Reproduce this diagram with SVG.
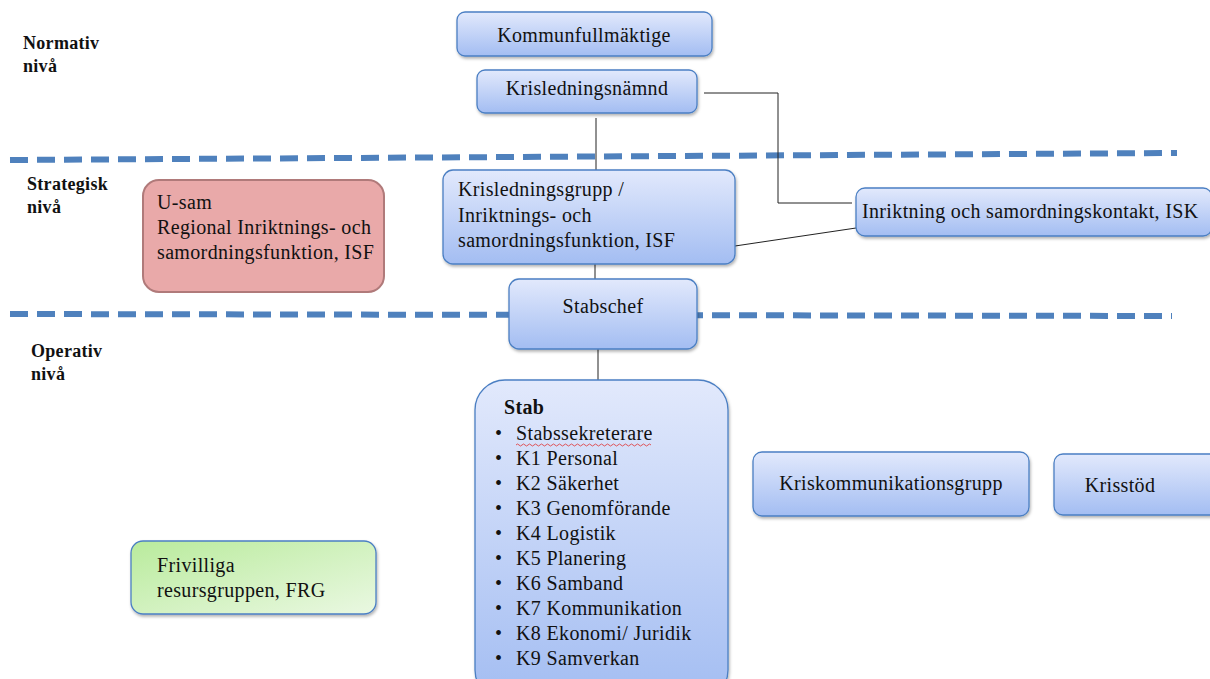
<svg xmlns="http://www.w3.org/2000/svg" width="1210" height="679" viewBox="0 0 1210 679">
<defs>
<linearGradient id="gBlue" x1="0" y1="0" x2="0" y2="1">
<stop offset="0" stop-color="#e2e9fc"/>
<stop offset="1" stop-color="#a3bdf2"/>
</linearGradient>
<linearGradient id="gGreen" x1="0" y1="0" x2="1" y2="1">
<stop offset="0" stop-color="#b9eb9c"/>
<stop offset="1" stop-color="#eaf8e2"/>
</linearGradient>
<filter id="sh" x="-10%" y="-10%" width="120%" height="130%">
<feDropShadow dx="1" dy="2" stdDeviation="1.5" flood-color="#000" flood-opacity="0.3"/>
</filter>
</defs>
<style>
.box{fill:url(#gBlue);stroke:#4b7fc3;stroke-width:1.3;filter:url(#sh)}
.t{font-family:"Liberation Serif","Times New Roman",serif;font-size:20px;letter-spacing:0.35px;fill:#111}
.lvl{font-family:"Liberation Serif","Times New Roman",serif;font-size:18px;letter-spacing:0.3px;font-weight:bold;fill:#111}
.dash{stroke:#4f81bd;stroke-width:6;stroke-dasharray:18 9;fill:none}
.con{stroke:#222;stroke-width:1;fill:none}
</style>
<rect width="1210" height="679" fill="#fff"/>
<g id="levels">
<line class="dash" x1="10" y1="160" x2="1177" y2="153"/>
<line class="dash" x1="10" y1="314" x2="1172" y2="316"/>
<text class="lvl" x="23" y="49">Normativ</text>
<text class="lvl" x="23" y="72">nivå</text>
<text class="lvl" x="27" y="190">Strategisk</text>
<text class="lvl" x="27" y="213">nivå</text>
<text class="lvl" x="31" y="357">Operativ</text>
<text class="lvl" x="31" y="380">nivå</text>
</g>
<g id="connectors">
<polyline class="con" points="704,93 778,93 778,203 852,203"/>
<line class="con" x1="596" y1="118" x2="596" y2="170" stroke="#666"/>
<line class="con" x1="735" y1="246" x2="856" y2="228"/>
<line class="con" x1="595" y1="264" x2="595" y2="279"/>
<line class="con" x1="598" y1="349" x2="598" y2="381"/>
</g>
<g id="kommunfullmaktige">
<rect class="box" x="457" y="12" width="255" height="44" rx="8"/>
<text class="t" x="584" y="42" text-anchor="middle">Kommunfullmäktige</text>
</g>
<g id="krisledningsnamnd">
<rect class="box" x="477" y="70" width="220" height="43" rx="8"/>
<text class="t" x="587" y="95" text-anchor="middle">Krisledningsnämnd</text>
</g>
<g id="krisledningsgrupp">
<rect class="box" x="443" y="170" width="292" height="94" rx="10"/>
<text class="t" x="458" y="196">Krisledningsgrupp /</text>
<text class="t" x="458" y="222">Inriktnings- och</text>
<text class="t" x="458" y="247">samordningsfunktion, ISF</text>
</g>
<g id="isk">
<rect class="box" x="856" y="188" width="356" height="48" rx="9"/>
<text class="t" x="862" y="218">Inriktning och samordningskontakt, ISK</text>
</g>
<g id="usam">
<rect x="143" y="180" width="241" height="112" rx="16" fill="#e9a9a9" stroke="#b07a7a" stroke-width="2"/>
<text class="t" x="157" y="209">U-sam</text>
<text class="t" x="157" y="234">Regional Inriktnings- och</text>
<text class="t" x="157" y="259">samordningsfunktion, ISF</text>
</g>
<g id="stabschef">
<rect class="box" x="509" y="279" width="188" height="70" rx="10"/>
<text class="t" x="603" y="313" text-anchor="middle">Stabschef</text>
</g>
<g id="stab">
<rect class="box" x="475" y="380" width="253" height="320" rx="30"/>
<text class="t" x="504" y="414" font-weight="bold">Stab</text>
<g class="t">
<text x="495" y="440">•</text><text x="516" y="440">Stabssekreterare</text>
<text x="495" y="465">•</text><text x="516" y="465">K1 Personal</text>
<text x="495" y="490">•</text><text x="516" y="490">K2 Säkerhet</text>
<text x="495" y="515">•</text><text x="516" y="515">K3 Genomförande</text>
<text x="495" y="540">•</text><text x="516" y="540">K4 Logistik</text>
<text x="495" y="565">•</text><text x="516" y="565">K5 Planering</text>
<text x="495" y="590">•</text><text x="516" y="590">K6 Samband</text>
<text x="495" y="615">•</text><text x="516" y="615">K7 Kommunikation</text>
<text x="495" y="640">•</text><text x="516" y="640">K8 Ekonomi/ Juridik</text>
<text x="495" y="665">•</text><text x="516" y="665">K9 Samverkan</text>
</g>
<path d="M516,445 q1.5,-2 3,0 t3,0 t3,0 t3,0 t3,0 t3,0 t3,0 t3,0 t3,0 t3,0 t3,0 t3,0 t3,0 t3,0 t3,0 t3,0 t3,0 t3,0 t3,0 t3,0 t3,0 t3,0 t3,0 t3,0 t3,0 t3,0 t3,0 t3,0 t3,0 t3,0 t3,0 t3,0 t3,0 t3,0 t3,0 t3,0 t3,0 t3,0 t3,0 t3,0 t3,0 t3,0 t3,0 t3,0 t3,0" fill="none" stroke="#e03030" stroke-width="0.8"/>
</g>
<g id="kriskommunikationsgrupp">
<rect class="box" x="753" y="452" width="276" height="64" rx="9"/>
<text class="t" x="891" y="490" text-anchor="middle">Kriskommunikationsgrupp</text>
</g>
<g id="krisstod">
<rect class="box" x="1054" y="454" width="170" height="61" rx="9"/>
<text class="t" x="1120" y="492" text-anchor="middle">Krisstöd</text>
</g>
<g id="frg">
<rect x="131" y="541" width="245" height="73" rx="12" fill="url(#gGreen)" stroke="#4b7fc3" stroke-width="1.3" filter="url(#sh)"/>
<text class="t" x="157" y="572">Frivilliga</text>
<text class="t" x="157" y="597">resursgruppen, FRG</text>
</g>
</svg>
